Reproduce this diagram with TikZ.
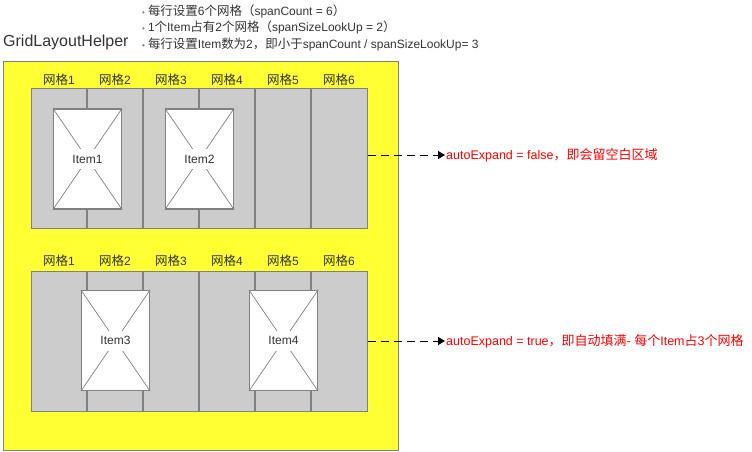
\documentclass[tikz,border=0pt]{standalone}
\usepackage{fontspec}
\setmainfont{Liberation Sans}
\newfontfamily\cjk[Scale=1.04]{Noto Sans CJK SC}
\newcommand{\zh}[1]{{\cjk #1}}
\usepackage{xcolor}
\usetikzlibrary{arrows.meta}
\definecolor{helperyellow}{HTML}{FFFF33}
\definecolor{cellgray}{HTML}{CCCCCC}
\definecolor{linegray}{HTML}{808080}
\definecolor{labelgray}{HTML}{333333}
\definecolor{dotgray}{HTML}{777777}
\definecolor{notered}{HTML}{FF0000}

\begin{document}
\begin{tikzpicture}[x=1pt,y=-1pt,
    helperbox/.style={rectangle, draw=linegray, line width=1pt, fill=helperyellow,
                      minimum width=395pt, minimum height=389pt, inner sep=0pt},
    gridbox/.style={rectangle, draw=linegray, line width=1pt, fill=cellgray,
                    minimum width=336pt, minimum height=140pt, inner sep=0pt},
    celldivider/.style={linegray, line width=2.5pt},
    itembox/.style={rectangle, draw=linegray, line width=1.2pt, fill=white,
                    minimum width=68pt, minimum height=100pt, inner sep=0pt},
    itemcross/.style={linegray, line width=0.7pt},
    itemtext/.style={fill=white, inner xsep=1pt, inner ysep=0pt, minimum height=20pt,
                     font=\fontsize{12}{14}\selectfont, text=labelgray},
    celllabel/.style={inner sep=0pt, font=\fontsize{12}{14}\selectfont, text=labelgray},
    bulletline/.style={anchor=base west, inner sep=0pt, font=\fontsize{12}{14}\selectfont, text=labelgray},
    notetext/.style={anchor=west, inner xsep=1pt, inner ysep=0pt, font=\fontsize{12.5}{14}\selectfont, text=notered},
    notearrow/.style={black, line width=1pt, dash pattern=on 8pt off 5pt,
                      -{Triangle[length=7pt,width=8pt]}}]

    \useasboundingbox (0,0) rectangle (752,451);

    % outer helper box and title
    \node[helperbox] (helper) at (200.5,255.5) {};
    \node[anchor=base west, inner sep=0pt, font=\fontsize{16}{18}\selectfont, text=labelgray]
        (title) at (3,46) {GridLayoutHelper};

    % rules at the top
    \node[bulletline] (rule1) at (142,15)
        {{\color{dotgray}\fontsize{8}{8}\selectfont •}\hspace{3pt}\zh{每行设置}6\zh{个网格（}spanCount = 6\zh{）}};
    \node[bulletline] (rule2) at (142,31)
        {{\color{dotgray}\fontsize{8}{8}\selectfont •}\hspace{3pt}1\zh{个}Item\zh{占有}2\zh{个网格（}spanSizeLookUp = 2\zh{）}};
    \node[bulletline] (rule3) at (142,48)
        {{\color{dotgray}\fontsize{8}{8}\selectfont •}\hspace{3pt}\zh{每行设置}Item\zh{数为}2\zh{，即小于}spanCount / spanSizeLookUp= 3};

    % the two rows of cells
    \node[gridbox] (gridA) at (199,158.5) {};
    \node[gridbox] (gridB) at (199,341) {};

    \foreach \k in {1,...,5} {
        \draw[celldivider] (31+56*\k,89) -- (31+56*\k,228);
        \draw[celldivider] (31+56*\k,271) -- (31+56*\k,411);
    }
    \foreach \k in {1,...,6} {
        \node[celllabel] (labA\k) at (3+56*\k,80) {\zh{网格}\k};
        \node[celllabel] (labB\k) at (3+56*\k,261) {\zh{网格}\k};
    }

    % items
    \foreach \n/\x/\y in {1/87.5/159, 2/199.5/159, 3/115.5/340.5, 4/283.5/340.5} {
        \node[itembox] (item\n) at (\x,\y) {};
        \draw[itemcross] (item\n.north west) -- (item\n.south east)
                         (item\n.north east) -- (item\n.south west);
        \node[itemtext] at (item\n.center) {Item\n};
    }

    % notes
    \node[notetext] (noteA) at (445,155) {autoExpand = false\zh{，即会留空白区域}};
    \node[notetext] (noteB) at (445,341) {autoExpand = true\zh{，即自动填满}- \zh{每个}Item\zh{占}3\zh{个网格}};

    \draw[notearrow] (gridA.east |- noteA.west) -- (noteA.west);
    \draw[notearrow] (gridB.east |- noteB.west) -- (noteB.west);

\end{tikzpicture}
\end{document}
